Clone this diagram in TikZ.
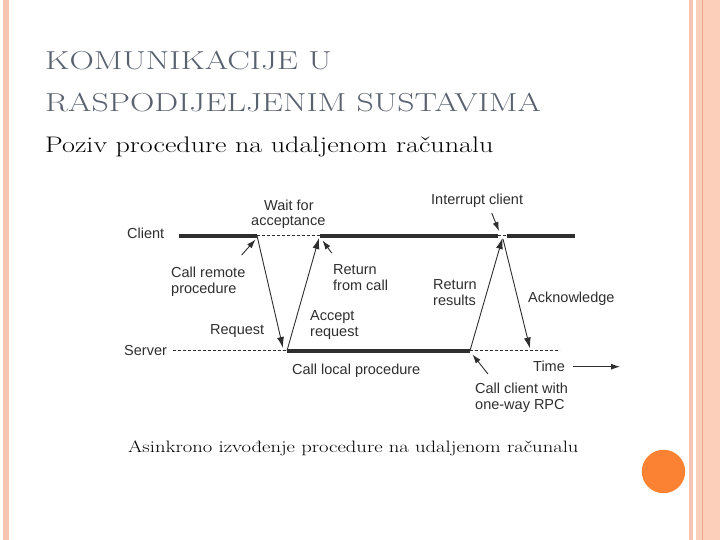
\documentclass[tikz,border=0pt]{standalone}
\usepackage{fontspec}
\setmainfont{Latin Modern Roman}
\newfontfamily\diafont{Liberation Sans}
\newfontfamily\titlefont[FakeStretch=1.3]{Latin Modern Roman}
\newfontfamily\subfont[FakeStretch=1.25]{Latin Modern Roman}
\usetikzlibrary{arrows.meta}
\definecolor{barsalmon}{HTML}{F6C4B0}
\definecolor{stripe}{HTML}{FCCFBB}
\definecolor{stripeline}{HTML}{EBA585}
\definecolor{dotorange}{HTML}{FB8232}
\definecolor{titlegray}{HTML}{5A6270}
\definecolor{ink}{HTML}{2E2E2E}
\tikzset{
  lbl/.style={anchor=base west, inner sep=0pt, font=\diafont\fontsize{14.5}{16}\selectfont, text=ink},
  thickline/.style={line width=3.6pt, draw=ink},
  dashline/.style={line width=0.8pt, draw=ink, dash pattern=on 3pt off 2pt},
  msg/.style={line width=0.9pt, draw=ink, -{Latex[length=11pt,width=7pt]}},
  pointer/.style={line width=0.9pt, draw=ink, -{Latex[length=9pt,width=6pt]}}
}
\begin{document}
\begin{tikzpicture}[x=1pt,y=-1pt]
\useasboundingbox (0,0) rectangle (720,540);
% decorations
\fill[barsalmon] (3,0) rectangle (9,540);
\fill[barsalmon] (689,0) rectangle (693,540);
\fill[stripe] (696,0) rectangle (720,540);
\fill[stripeline] (701.5,0) rectangle (702.7,540);
\fill[dotorange] (663.5,471.5) circle (21.7);
% titles
\node[anchor=base west, inner sep=0pt, text=titlegray, font=\titlefont\fontsize{26}{30}\selectfont] (t1) at (45,69.5) {KOMUNIKACIJE U};
\node[anchor=base west, inner sep=0pt, text=titlegray, font=\titlefont\fontsize{26}{30}\selectfont] (t2) at (45,111.5) {RASPODIJELJENIM SUSTAVIMA};
\node[anchor=base west, inner sep=0pt, font=\subfont\fontsize{22.5}{26}\selectfont] (sub) at (45,153) {Poziv procedure na udaljenom računalu};
\node[anchor=base west, inner sep=0pt, font=\subfont\fontsize{16.5}{20}\selectfont] (cap) at (128,452) {Asinkrono izvođenje procedure na udaljenom računalu};
% timeline coordinates
\coordinate (c0) at (179,235.7);
\coordinate (c1) at (257,235.7);
\coordinate (c2) at (320,235.7);
\coordinate (c3) at (498,235.7);
\coordinate (c4) at (507,235.7);
\coordinate (c5) at (575,235.7);
\coordinate (s0) at (173,350.7);
\coordinate (s1) at (287,350.7);
\coordinate (s2) at (470,350.7);
\coordinate (s3) at (560,350.7);
% lines
\draw[thickline] (c0) -- (c1);
\draw[dashline] (c1) -- (c2);
\draw[thickline] (c2) -- (c3);
\draw[dashline] (c3) -- (c4);
\draw[thickline] (c4) -- (c5);
\draw[dashline] (s0) -- (s1);
\draw[thickline] (s1) -- (s2);
\draw[dashline] (s2) -- (s3);
% messages
\coordinate (reqtip) at (283,348);
\coordinate (acctip) at (319,238);
\coordinate (rettip) at (502.5,238);
\coordinate (ackstart) at (503,239);
\coordinate (acktip) at (530,348.5);
\draw[msg] (c1) -- (reqtip);
\draw[msg] (s1) -- (acctip);
\draw[msg] (s2) -- (rettip);
\draw[msg] (ackstart) -- (acktip);
% labels
\node[lbl] (client) at (127,238.3) {Client};
\node[lbl] (server) at (124,355.7) {Server};
\node[lbl] (wait1) at (264,211) {Wait for};
\node[lbl] (wait2) at (251,225.5) {acceptance};
\node[lbl] (intr) at (431,205) {Interrupt client};
\node[lbl] (crp1) at (171,277) {Call remote};
\node[lbl] (crp2) at (171,293) {procedure};
\node[lbl] (rfc1) at (333,274) {Return};
\node[lbl] (rfc2) at (333,290) {from call};
\node[lbl] (rr1) at (433,289) {Return};
\node[lbl] (rr2) at (433,305) {results};
\node[lbl] (ack) at (528,302.3) {Acknowledge};
\node[lbl] (req) at (210,334) {Request};
\node[lbl] (acc1) at (310,320.5) {Accept};
\node[lbl] (acc2) at (310,336.5) {request};
\node[lbl] (clp) at (292,374.5) {Call local procedure};
\node[lbl] (time) at (533,371.7) {Time};
\node[lbl] (ccw1) at (475,393) {Call client with};
\node[lbl] (ccw2) at (475,409) {one-way RPC};
% pointers
\coordinate (p1a) at (241.7,255);
\coordinate (p1b) at (255.5,239.5);
\draw[pointer] (p1a) -- (p1b);
\coordinate (p2a) at (331.7,253);
\coordinate (p2b) at (322.5,240.5);
\draw[pointer] (p2a) -- (p2b);
\coordinate (p3a) at (491.7,213);
\coordinate (p3b) at (499,231);
\draw[pointer] (p3a) -- (p3b);
\coordinate (p4a) at (488,374);
\coordinate (p4b) at (472.5,354.5);
\draw[pointer] (p4a) -- (p4b);
\coordinate (ta) at (573,366.7);
\coordinate (tb) at (620,366.7);
\draw[pointer] (ta) -- (tb);
\end{tikzpicture}
\end{document}
